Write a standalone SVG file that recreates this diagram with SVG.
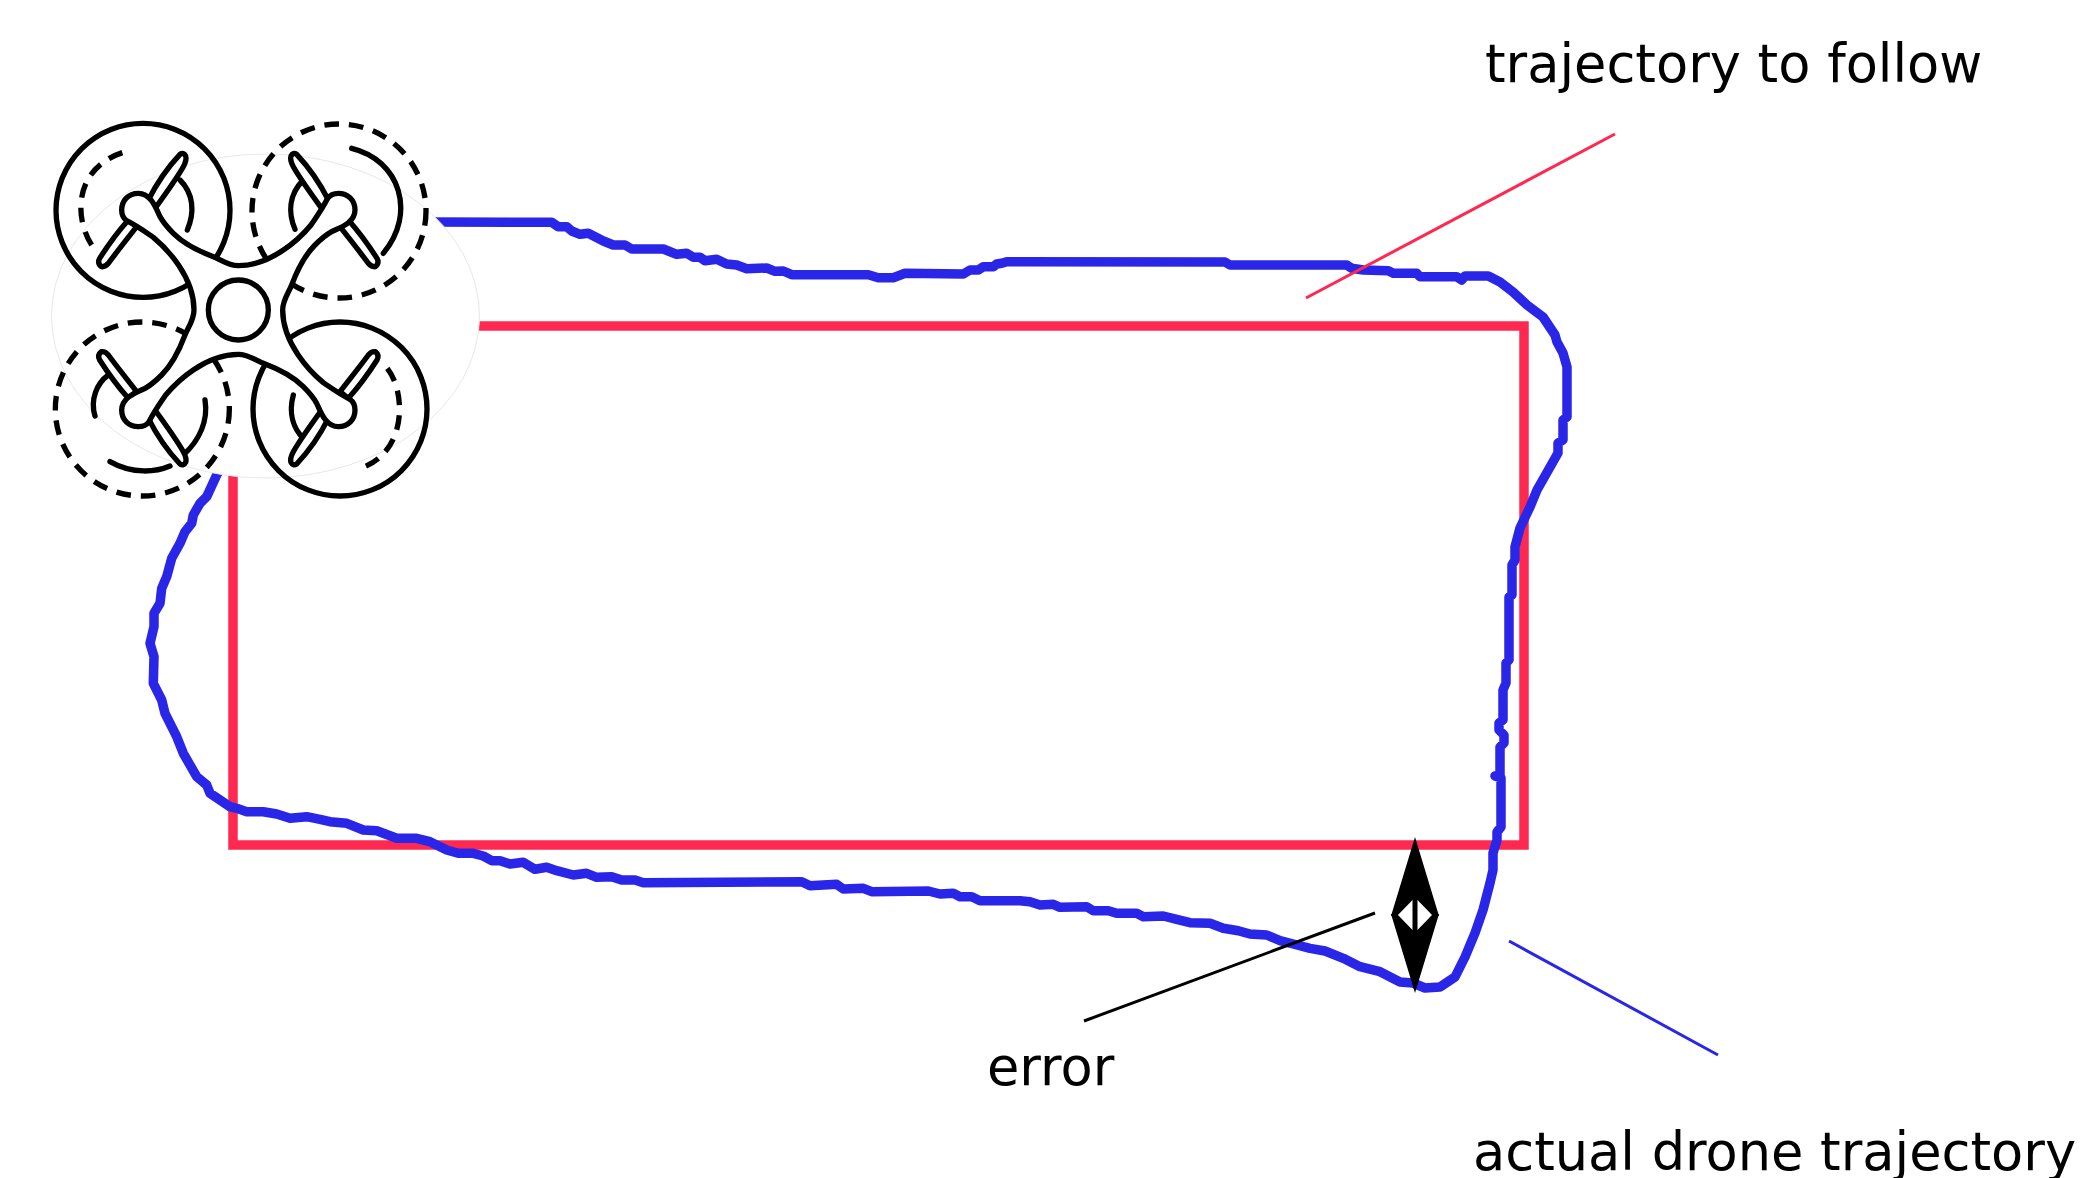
<svg xmlns="http://www.w3.org/2000/svg" xmlns:xlink="http://www.w3.org/1999/xlink" width="2083" height="1178" viewBox="0 0 2083 1178">
<style>
text{font-family:"DejaVu Sans",sans-serif;font-size:52.6px;fill:#000}
.k{fill:none;stroke:#000;stroke-width:16;stroke-linecap:round;stroke-linejoin:round}
.d{stroke-dasharray:44 30;stroke-linecap:butt}
.w{fill:#fff;stroke:#000;stroke-width:16;stroke-linejoin:round}
.leader{fill:none;stroke-width:3}
</style>
<defs>
<marker id="head" markerUnits="userSpaceOnUse" orient="auto-start-reverse" markerWidth="90" markerHeight="60" viewBox="0 -30 90 60" refX="67" refY="0">
<path d="M79,0 L0,-24 L0,-18 L16,-2.5 L16,2.5 L0,18 L0,24 Z" fill="#000"/>
</marker>
<g id="blades">
<path class="w" d="M30,-30 C60,-90 95,-135 125,-167 Q136,-174 142,-162 Q146,-150 135,-130 C115,-95 90,-60 50,-5 Z"/>
<path class="w" d="M-30,30 C-70,75 -95,112 -116,145 Q-124,160 -111,170 Q-100,172 -90,160 C-68,130 -40,95 -5,50 Z"/>
</g>
</defs>
<g id="trajectory-to-follow">
<rect x="233" y="326" width="1291" height="519" fill="none" stroke="#ff2850" stroke-width="9.5"/>
</g>
<g id="actual-trajectory">
<path fill="none" stroke="#2a26e8" stroke-width="9.5" stroke-linejoin="round" stroke-linecap="round" d="M430,222 L551.7,222.3 558.3,226.7 566.7,226.7 571.7,231 580,234.3 588.3,233.3 603.3,241 613.3,245 625,245 631.7,249 663.3,249 668.3,251 676.7,254.3 686.7,253.3 693.3,257.3 700,257.3 705,260.7 716.7,259.3 726.7,264 736.7,265 746.7,268.7 766.7,268 775,271.3 783.3,271 791.7,274.7 868.3,274.7 878.3,277.7 893.3,277.7 905,273.3 963.3,274 970,270 978.3,270 983.3,266.7 993.3,266.7 996.7,264 1001.7,263.3 1006.7,261.7 1225,262 1230,265 1346.7,265 1351.7,268.3 1363.3,270 1388.3,270.7 1393.3,273.3 1416.7,273.3 1420,276.7 1456.7,276.7 1461.7,280 1465,276 1488.3,276 1500,282 1513,292 1527,305 1543,317 1555,335 1557,342 1563,353 1567,367 1567,417 1563,420 1563,440 1558,443 1558,453 1537,490 1530,507 1520,528 1515,547 1515,560 1512,565 1512,595 1509,597 1509,660 1506,663 1506,683 1503,690 1503,720 1499,723 1499,730 1504,735 1504,743 1500,747 1500,775 1495,776 1501,778 1501,827 1497,832 1497,840 1493,853 1493,870 1490,883 1483,910 1475,933 1465,957 1455,977 1440,987 1425,988 1413,983 1400,982 1380,971.7 1360,966.7 1343.3,958.3 1325,951 1310,948.3 1293.3,944 1280,940.7 1266.7,935 1250,934 1238.3,930.7 1223.3,928.3 1210,923.3 1190,922.7 1176.7,919.3 1163.3,916 1143.3,916.7 1136.7,913.3 1116.7,913.3 1108.3,910.7 1093.3,910.7 1086.7,906.7 1060,907.3 1053.3,904.3 1040,905 1030,901.7 1020,900.7 980,900.7 971.7,896.7 960,896.7 953.3,893.3 940,894 928.3,891 871.7,891.7 863.3,888.3 843.3,889 836.7,884.3 810,885.7 801.7,881.7 643.3,882.7 635,880 621.7,880 611.7,876.7 596.7,877.3 586.7,873.3 573.3,875 556.7,870.7 546.7,867.3 535,869.3 523.3,862.3 510,864 500,860.7 491.7,860.7 483.3,856 473.3,853.3 458.3,853.3 446.7,850 430,841.7 416.7,838.3 396.7,838.3 376.7,830.7 363.3,830 346.7,823.3 330,821.7 320,819.3 306.7,816.7 290,818.3 276.7,814 263.3,811.7 246.7,811.7 236.7,808.3 230,806.7 210,793.3 206.7,785 196.7,776.7 183.3,753.3 176.7,736.7 165,713.3 161.7,700 153.3,683.3 154,656.7 150,643.3 154,626.7 154,613.3 160,603.3 161.7,588.3 166.7,576.7 171.7,558.3 180,543.3 185,531.7 191.7,523.3 193.3,515 200,503.3 206.7,496.7 216.7,475 225,460"/>
</g>
<g id="drone">
<ellipse cx="265.5" cy="316" rx="214" ry="162" fill="#fff" stroke="#e8e8e8" stroke-width="1"/>
<g transform="translate(30,100) scale(.33333)">
<circle class="k" cx="339" cy="331" r="261"/>
<circle class="k d" cx="927" cy="333" r="261"/>
<circle class="k d" cx="337" cy="927" r="261"/>
<circle class="k" cx="930" cy="927" r="261"/>
<path class="k d" d="M185,435 C130,350 130,190 305,150"/>
<path class="k" d="M450,240 C490,280 495,335 472,390"/>
<path class="k" d="M965,145 C1110,180 1160,340 1060,460"/>
<path class="k" d="M795,388 C775,340 775,285 820,240"/>
<path class="k d" d="M1072,805 C1130,880 1130,1060 990,1105"/>
<path class="k" d="M790,885 C775,940 790,985 820,1015"/>
<path class="k" d="M195,948 C180,900 200,850 235,825"/>
<path class="k" d="M240,1085 C310,1125 380,1115 420,1098"/>
<path class="k" d="M460,1065 C510,1020 535,960 525,900"/>
<use xlink:href="#blades" href="#blades" transform="translate(325,330)"/>
<use xlink:href="#blades" href="#blades" transform="translate(925,330) scale(-1,1)"/>
<use xlink:href="#blades" href="#blades" transform="translate(325,925) scale(1,-1)"/>
<use xlink:href="#blades" href="#blades" transform="translate(925,925) scale(-1,-1)"/>
<g transform="translate(625,630)">
<path class="w" d="M0,-133 C-30,-133 -50,-150 -75,-160 C-115,-175 -165,-200 -195,-230 C-210,-245 -225,-262 -235,-280 C-245,-300 -260,-350 -300,-350 C-330,-350 -350,-328 -350,-300 C-350,-285 -345,-275 -335,-268 C-300,-250 -280,-235 -255,-218 C-215,-185 -133,-100 -133,0 C-133,30 -150,50 -160,75 C-175,115 -200,165 -230,195 C-245,210 -262,225 -280,235 C-300,245 -350,260 -350,300 C-350,330 -328,350 -300,350 C-285,350 -275,345 -268,335 C-250,300 -235,280 -218,255 C-185,215 -100,133 0,133 C30,133 50,150 75,160 C115,175 165,200 195,230 C210,245 225,262 235,280 C245,300 260,350 300,350 C330,350 350,328 350,300 C350,285 345,275 335,268 C300,250 280,235 255,218 C215,185 133,100 133,0 C133,-30 150,-50 160,-75 C175,-115 200,-165 230,-195 C245,-210 262,-225 280,-235 C300,-245 350,-260 350,-300 C350,-330 328,-350 300,-350 C285,-350 275,-345 268,-335 C250,-300 235,-280 218,-255 C185,-215 100,-133 0,-133 Z"/>
<circle class="w" cx="0" cy="0" r="90"/>
</g>
</g>
</g>
<g id="connectors">
<line class="leader" stroke="#ff2850" x1="1306" y1="298" x2="1615" y2="134"/>
<line class="leader" stroke="#2a26e8" x1="1509" y1="941" x2="1718" y2="1055"/>
<line class="leader" stroke="#000" x1="1375" y1="913" x2="1084" y2="1021"/>
<line stroke="#000" stroke-width="5" x1="1415" y1="849" x2="1415" y2="981" marker-start="url(#head)" marker-end="url(#head)"/>
</g>
<g id="labels">
<text x="1485" y="82">trajectory to follow</text>
<text x="987" y="1085">error</text>
<text x="1473" y="1170">actual drone trajectory</text>
</g>
</svg>
